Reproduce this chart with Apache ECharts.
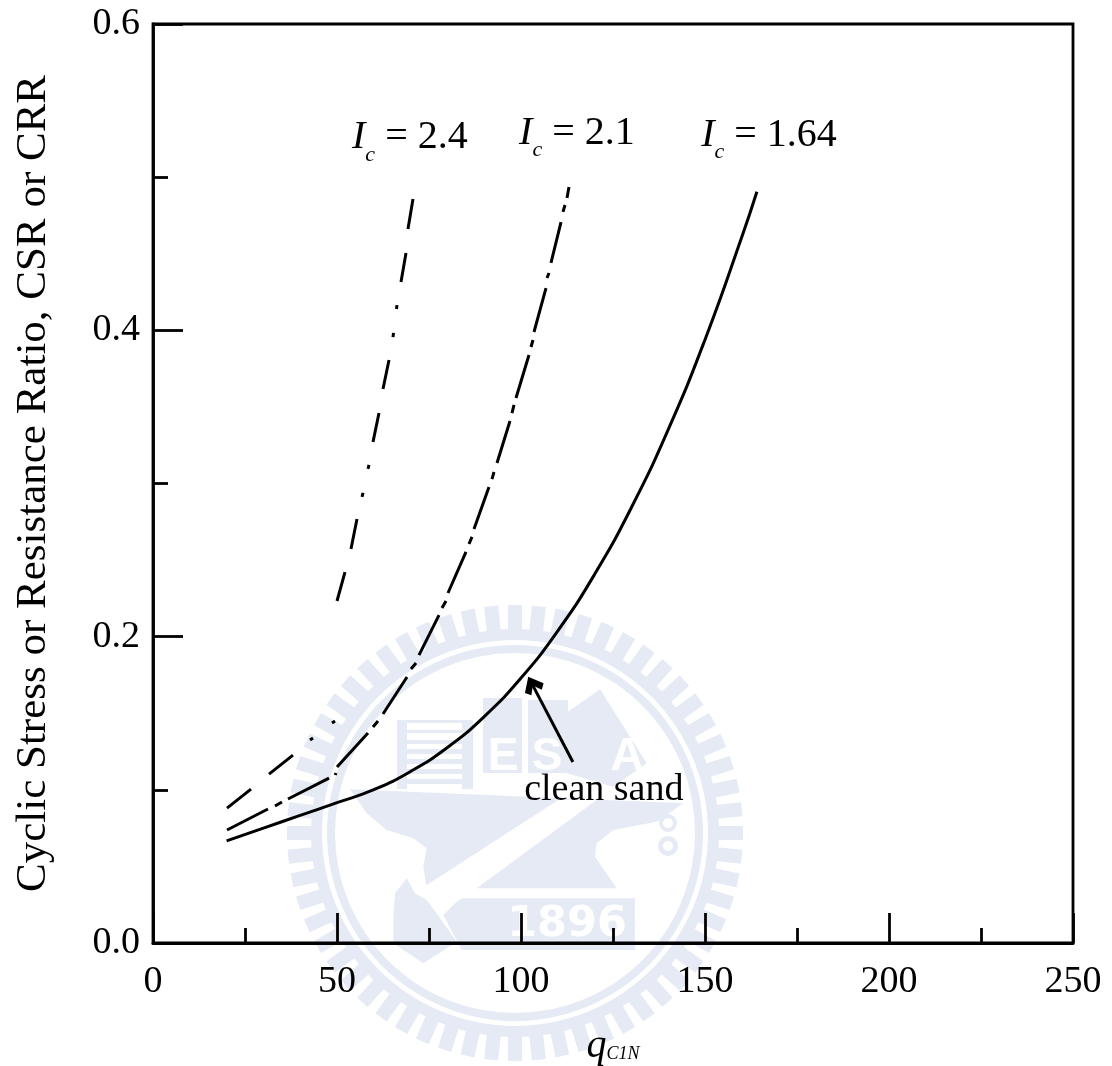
<!DOCTYPE html>
<html>
<head>
<meta charset="utf-8">
<style>html,body{margin:0;padding:0;background:#fff}#c{width:1112px;height:1066px}</style>
<script src="https://cdn.jsdelivr.net/npm/echarts@6/dist/echarts.min.js"></script>
</head>
<body>
<div id="c"></div>
<script>
var xRange = [0, 250];
var yRange = [0, 0.6];
var yTitle = 'Cyclic Stress or Resistance Ratio, CSR or CRR';

// clean sand, Ic = 1.64: [qc1N, ratio]
var curveIc164 = [[20,.0667],[30,.075],[40,.0833],[50,.0916],[60,.1001],[70,.112],[80,.1276],[90,.1478],[100,.173],[110,.2038],[120,.2407],[130,.2843],[140,.3352],[150,.3939],[160,.4609],[164.1,.4905]];

// Ic = 2.1: pen strokes, a null ratio lifts the pen
var curveIc21 = [[20.11,.0738],[31.25,.0875],[33,null],[33.15,.0894],[35.05,.0921],[36,null],[36.68,.094],[47.83,.1077],[49,null],[49.5,.1097],[49.73,.111],[49.9,null],
[50,.1149],[58.42,.1371],[59,null],[59.78,.141],[61.14,.1449],[62,null],[62.5,.1495],[69.02,.1737],[70,null],[70.11,.1789],[71.47,.1828],[72,null],[72.28,.188],[77.72,.2141],[78,null],
[78.53,.2187],[79.62,.2233],[80,null],[80.16,.2285],[85.05,.2553],[85.5,null],[85.87,.2605],[86.68,.2651],[87,null],[87.23,.2703],[91.3,.2977],[92,null],[92.12,.3029],[92.66,.3075],[93,null],
[93.48,.3134],[97.01,.3408],[97.3,null],[97.55,.346],[98.1,.3513],[98.4,null],[98.64,.3558],[102.17,.3839],[102.5,null],[102.72,.3891],[103.26,.3937],[103.4,null],
[103.53,.3989],[106.79,.4276],[107,null],[107.07,.4342],[107.61,.4374],[108,null],[108.15,.444],[110.87,.4707],[111.2,null],[111.41,.4773],[111.96,.4818],[112.2,null],[112.5,.4864],[113.04,.4936]];

// Ic = 2.4: lower piece
var curveIc24Low = [[20.11,.0881],[26.63,.1005],[29,null],[31.52,.1103],[38.04,.1227],[40,null],[42.66,.1325],[43.48,.1338],[45,null],[48.64,.1436],[49.46,.1449]];
// Ic = 2.4: upper piece
var curveIc24High = [[50,.2233],[52.17,.2422],[53,null],[53.8,.2572],[55.43,.2768],[56,null],[56.79,.2912],[57.07,.2938],[57.5,null],[58.42,.3095],[58.7,.3121],[59,null],
[59.78,.3271],[61.41,.346],[62,null],[62.5,.3617],[64.13,.3806],[65,null],[65.22,.3956],[65.35,.3983],[65.8,null],[66.17,.4139],[66.3,.4165],[67,null],[67.39,.4316],[68.75,.4505],[69,null],[69.29,.4662],[70.65,.4857]];

// annotation anchors [q, ratio, text]
var curveNotes = [[69.8,.5256,'2.4'],[115.2,.5285,'2.1'],[167.4,.5275,'1.64']];
var sandNote = [122.5,.0996,'clean sand'];
var arrowFrom = [114.1,.1182];
var arrowTo = [103.1,.1687];

// faint seal behind the plot
var SEAL = '#e6eaf4';
function seal() {
  var cx = 515, cy = 833, g = [];
  function P(pts){return pts.map(function(p){return [p[0]/3+280,p[1]/3+600];});}
  function poly(pts,fill,z){g.push({type:'polygon',z:z,silent:true,shape:{points:P(pts)},style:{fill:fill}});}
  function rect(x,y,w,h,fill,z){g.push({type:'rect',z:z,silent:true,shape:{x:x,y:y,width:w,height:h},style:{fill:fill}});}
  function ring(x,y,r,r0,z){g.push({type:'ring',z:z,silent:true,shape:{cx:x,cy:y,r:r,r0:r0},style:{fill:SEAL}});}
  function txt(s,x,y,size,fill,z,font){g.push({type:'text',z:z,silent:true,x:x,y:y,style:{text:s,fill:fill,font:'bold '+size+'px '+(font||'"Liberation Sans"'),align:'center',verticalAlign:'middle'}});}
  ring(cx,cy,204,193,-20);
  ring(cx,cy,188,180,-20);
  var n = 60;
  for (var i=0;i<n;i++){
    var a = i/n*Math.PI*2, s=Math.sin(a), c=Math.cos(a);
    g.push({type:'line',z:-20,silent:true,shape:{x1:cx+200*c,y1:cy+200*s,x2:cx+228*c,y2:cy+228*s},style:{stroke:SEAL,lineWidth:14}});
  }
  rect(397,720,76,69,SEAL,-20);
  [723,733,744,754,764,774,784].forEach(function(y){rect(407,y,55,y<740?7:5,'#fff',-19);});
  rect(483,698,39,75,SEAL,-20);
  rect(528,700,40,73,SEAL,-20);
  poly([[850,345],[960,268],[1100,490],[1000,560],[860,520]],SEAL,-20);
  poly([[210,568],[1210,610],[1130,665],[1000,690],[950,730],[945,770],[1010,865],[440,865],[430,800],[440,745],[400,715],[320,690],[260,640]],SEAL,-20);
  poly([[425,865],[835,600],[950,600],[590,865],[480,940],[455,920]],'#fff',-18);
  poly([[345,880],[380,835],[405,880],[440,900],[470,940],[530,1025],[430,1090],[340,1030],[340,950]],SEAL,-17);
  poly([[540,895],[1065,895],[1065,1050],[545,1050],[490,945]],SEAL,-20);
  txt('E',503,757,46,'#fff',-19);
  txt('S',547,757,46,'#fff',-19);
  txt('A',627,757,46,'#fff',-19);
  txt('1896',567,925,43,'#fff',-16,'"DejaVu Sans"');
  ring(668,823,9,5,-15);
  ring(668,846,10,5,-15);
  return g;
}

var SERIF = '"Liberation Serif","Times New Roman",serif';
var INK = '#000';
function strokeSeries(data){
  return {type:'line',data:data,showSymbol:false,symbol:'none',silent:true,connectNulls:false,
    lineStyle:{color:INK,width:3,cap:'butt',join:'round'},z:3};
}

var chart = echarts.init(document.getElementById('c'),null,{renderer:'canvas'});
chart.setOption({
  animation:false,
  backgroundColor:'#fff',
  graphic:seal(),
  grid:{left:153,right:39,top:24,bottom:123,outerBoundsMode:'none',containLabel:false,show:true,borderColor:INK,borderWidth:2.8,backgroundColor:'transparent'},
  xAxis:{type:'value',min:xRange[0],max:xRange[1],interval:50,
    name:'{i|q}{sub|C1N}',nameLocation:'middle',nameGap:83,
    nameTextStyle:{rich:{i:{fontFamily:SERIF,fontStyle:'italic',fontSize:40,color:INK},sub:{fontFamily:SERIF,fontStyle:'italic',fontSize:18,color:INK,padding:[16,0,0,0]}}},
    axisLine:{show:true,onZero:false,lineStyle:{color:INK,width:2.8}},
    axisTick:{show:true,inside:true,length:30,lineStyle:{color:INK,width:2.8}},
    minorTick:{show:true,splitNumber:2,length:15,lineStyle:{color:INK,width:2.8}},
    splitLine:{show:false},minorSplitLine:{show:false},
    axisLabel:{color:INK,fontFamily:SERIF,fontSize:38,margin:20,showMinLabel:true,showMaxLabel:true,hideOverlap:false}
  },
  yAxis:{type:'value',min:yRange[0],max:yRange[1],interval:0.2,
    name:yTitle,nameLocation:'middle',nameGap:98,nameRotate:90,
    nameTextStyle:{color:INK,fontFamily:SERIF,fontSize:43},
    axisLine:{show:true,onZero:false,lineStyle:{color:INK,width:2.8}},
    axisTick:{show:true,inside:true,length:30,lineStyle:{color:INK,width:2.8}},
    minorTick:{show:true,splitNumber:2,length:15,lineStyle:{color:INK,width:2.8}},
    splitLine:{show:false},minorSplitLine:{show:false},
    axisLabel:{color:INK,fontFamily:SERIF,fontSize:38,margin:13,formatter:function(v){return v.toFixed(1);},hideOverlap:false}
  },
  series:[
    Object.assign(strokeSeries(curveIc164),{smooth:true,
      markLine:{silent:true,animation:false,symbol:['none','path://M50 0 L100 58 L78 80 L50 44 L22 80 L0 58 Z'],symbolSize:[21,18],
        lineStyle:{color:INK,width:3,type:'solid'},label:{show:false},
        data:[[{coord:arrowFrom},{coord:arrowTo}]]}}),
    strokeSeries(curveIc21),
    strokeSeries(curveIc24Low),
    strokeSeries(curveIc24High),
    {type:'scatter',symbolSize:0,silent:true,z:4,itemStyle:{opacity:1},
      data:curveNotes.map(function(n){return {value:[n[0],n[1]],note:n[2]};}),
      label:{show:true,position:'inside',opacity:1,rich:{i:{fontFamily:SERIF,fontStyle:'italic',fontSize:40,color:INK},sub:{fontFamily:SERIF,fontStyle:'italic',fontSize:22,color:INK,verticalAlign:'bottom',padding:[34,0,0,0]},t:{fontFamily:SERIF,fontSize:40,color:INK}},
        formatter:function(p){return '{i|I}{sub|c}{t| = '+p.data.note+'}';}}},
    {type:'scatter',symbolSize:0,silent:true,z:4,itemStyle:{opacity:1},
      data:[{value:[sandNote[0],sandNote[1]],note:sandNote[2]}],
      label:{show:true,position:'inside',opacity:1,color:INK,fontFamily:SERIF,fontSize:38,formatter:function(p){return p.data.note;}}}
  ]
});
</script>
</body>
</html>
